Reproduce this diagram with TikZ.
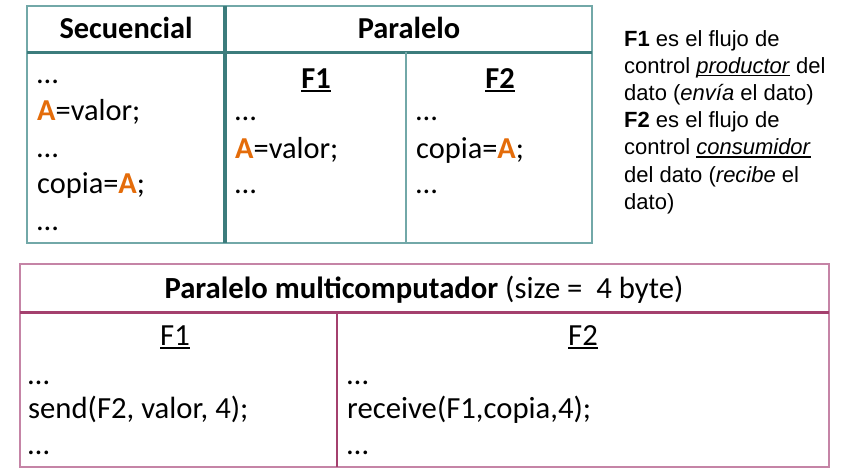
\documentclass[tikz,border=0pt]{standalone}
\usepackage{fontspec}
\setmainfont{Carlito}
\newfontfamily\arialf{Liberation Sans}
\definecolor{tealout}{HTML}{72A8A8}
\definecolor{tealin}{HTML}{3C7C7C}
\definecolor{pinkout}{HTML}{C584A6}
\definecolor{pinkin}{HTML}{A4406E}
\definecolor{aorange}{HTML}{E46C0A}
\newcommand\Aor{\textcolor{aorange}{\textbf{A}}}
\newcommand\myul[1]{\setbox0\hbox{#1}\rlap{\rule[-0.13em]{\wd0}{0.07em}}\box0\relax}
\tikzset{
  hd/.style={inner sep=0pt, anchor=base, font=\fontsize{30.4}{36}\selectfont\bfseries},
  tx/.style={inner sep=0pt, anchor=base west, font=\fontsize{30.4}{36}\selectfont},
  bhd/.style={inner sep=0pt, anchor=base, font=\fontsize{30.7}{36}\selectfont},
  btx/.style={inner sep=0pt, anchor=base west, font=\fontsize{30.7}{36}\selectfont},
  rt/.style={inner sep=0pt, anchor=base west, font=\fontsize{22}{27}\arialf},
}
\begin{document}
\begin{tikzpicture}[x=1pt,y=-1pt]
\useasboundingbox (0,0) rectangle (850,472);
% top table
\draw[tealout, line width=2pt] (27,6) rectangle (592,243);
\draw[tealin, line width=3pt] (27,52) -- (592,52);
\draw[tealin, line width=3.5pt] (225,6) -- (225,243);
\draw[tealout, line width=1.5pt] (406,52) -- (406,243);
\node[hd] (sec) at (126,38) {Secuencial};
\node[hd] (par) at (409,38) {Paralelo};
\node[tx] (s1) at (37,83) {…};
\node[tx] (s2) at (37,120) {\Aor=valor;};
\node[tx] (s3) at (37,157) {…};
\node[tx] (s4) at (37,193) {copia=\Aor;};
\node[tx] (s5) at (37,230) {…};
\node[hd] (pf1) at (316,88) {\myul{F1}};
\node[hd] (pf2) at (500,88) {\myul{F2}};
\node[tx] (a1) at (235,120) {…};
\node[tx] (a2) at (235,158) {\Aor=valor;};
\node[tx] (a3) at (235,193) {…};
\node[tx] (b1) at (416,120) {…};
\node[tx] (b2) at (416,158) {copia=\Aor;};
\node[tx] (b3) at (416,193) {…};
% right text
\node[rt] (r1) at (624,46) {\textbf{F1} es el flujo de};
\node[rt] (r2) at (624,73.2) {control \myul{\textit{productor}} del};
\node[rt] (r3) at (624,100.4) {dato (\textit{envía} el dato)};
\node[rt] (r4) at (624,127.6) {\textbf{F2} es el flujo de};
\node[rt] (r5) at (624,154.8) {control \myul{\textit{consumidor}}};
\node[rt] (r6) at (624,182) {del dato (\textit{recibe} el};
\node[rt] (r7) at (624,209.2) {dato)};
% bottom table
\draw[pinkout, line width=2pt] (20,264) rectangle (829,467);
\draw[pinkin, line width=3pt] (20,312) -- (829,312);
\draw[pinkin, line width=1.5pt] (337,312) -- (337,467);
\node[bhd] (mh) at (424,298) {\textbf{Paralelo multicomputador} (size = \ 4 byte)};
\node[bhd] (mf1) at (175,345) {\myul{F1}};
\node[bhd] (mf2) at (583,345) {\myul{F2}};
\node[btx] (m1) at (28,384) {…};
\node[btx] (m2) at (28,418) {send(F2, valor, 4);};
\node[btx] (m3) at (28,454) {…};
\node[btx] (n1) at (347,384) {…};
\node[btx] (n2) at (347,418) {receive(F1,copia,4);};
\node[btx] (n3) at (347,454) {…};
\end{tikzpicture}
\end{document}
